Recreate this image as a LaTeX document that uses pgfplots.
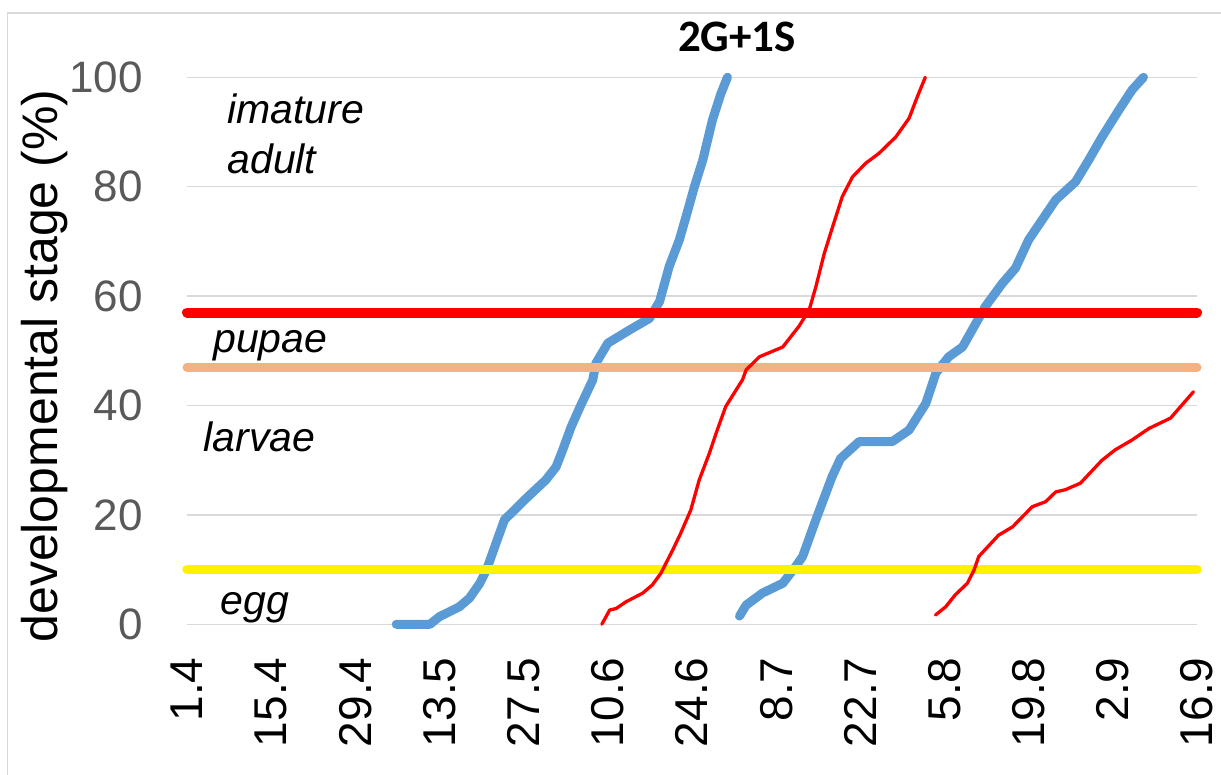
\documentclass[border=0pt]{standalone}
\usepackage{fontspec}
\setmainfont{Liberation Sans}
\newfontfamily\titlefont{Carlito}
\usepackage{pgfplots}
\pgfplotsset{compat=1.18}
\definecolor{stageblue}{HTML}{5B9BD5}
\definecolor{peach}{HTML}{F4B183}
\definecolor{gridgray}{HTML}{D9D9D9}
\definecolor{ticktext}{HTML}{595959}

% cumulative development, days counted from 1 April
\pgfplotstableread{
day val
34.8 0
40.4 0
42 1.4
45.3 3.2
47 4.8
48.7 7.5
49.8 9.9
51.2 14.2
52.8 19.1
54.2 20.6
56.4 23
59.7 26.4
61.4 28.8
62.5 31.9
63.9 36.1
65.4 39.8
67.5 44.7
68 47.7
70 51.4
73.6 53.8
76.9 55.9
78.6 59
80.2 65.4
81.9 70.3
83 74.5
84.4 80
85.8 84.9
87.4 92.2
88.8 97
89.9 100
}\genA
\pgfplotstableread{
day val
69 0
70.3 2.6
71.4 2.9
73 4.1
75.8 5.7
77.4 7.2
78.8 9.3
80.8 13.6
82.1 16.6
83.8 20.9
85.2 26.4
86.9 31.3
88 34.9
89.6 39.8
92.4 44.7
93 46.5
95.2 48.9
99.1 50.7
101.8 54.5
103.5 57.5
104.6 61.7
106 67.8
107.4 72.7
109 78.2
110.7 81.8
112.9 84.3
115.1 86.1
117.9 89.1
120.1 92.5
121.5 96.5
122.8 100
}\genB
\pgfplotstableread{
day val
91.9 1.5
93 3.5
95.7 5.7
99.1 7.5
101.2 10.5
102.4 12.4
104.6 19.1
107.3 27
108.7 30.3
111.8 33.4
117.3 33.4
120.1 35.5
122.9 40.4
124.6 46
126.7 48.9
129 50.7
132.8 58.1
135.6 62.3
137.8 65.1
140 70.3
144.5 77.6
147.8 80.9
150 84.9
152.2 89.1
155 94
157.2 97.7
159.1 100
}\genC
\pgfplotstableread{
day val
124.5 1.7
126.2 3.2
127.8 5.4
129.8 7.5
130.9 9.9
131.7 12.4
135 16.3
137.3 17.8
140.6 21.5
142.8 22.4
144.5 24.2
146.1 24.6
148.6 25.8
152.2 30
154.4 31.9
157.2 33.7
160 35.8
163.6 37.7
167.4 42.5
}\genD

\begin{document}
\begin{tikzpicture}[x=1pt,y=1pt]
\path[use as bounding box] (0,0) rectangle (1221,775);
\draw[gridgray, line width=1.5pt] (7.5,0) -- (7.5,762) -- (1221,762);
\node[font=\titlefont\bfseries\fontsize{45}{45}\selectfont, anchor=base] at (737,723) {2G+1S};
\node[font=\fontsize{50}{50}\selectfont, rotate=90] at (45,409) {developmental stage (\%)};
\begin{axis}[
  at={(187pt,150.7pt)}, anchor=south west,
  width=1010pt, height=547pt, scale only axis,
  xmin=0, xmax=168, ymin=0, ymax=100,
  clip=false,
  axis line style={draw=none},
  tick style={draw=none},
  ymajorgrids,
  major grid style={gridgray, line width=1.5pt},
  ytick={0,20,...,100},
  xtick={0,14,...,168},
  xticklabels={1.4,15.4,29.4,13.5,27.5,10.6,24.6,8.7,22.7,5.8,19.8,2.9,16.9},
  /pgf/number format/assume math mode=true,
  yticklabel style={font=\fontsize{44}{44}\selectfont, text=ticktext, anchor=east, inner sep=0pt},
  yticklabel shift=44pt,
  xticklabel style={font=\fontsize{46}{46}\selectfont, text=black, rotate=90, anchor=east, inner sep=0pt},
  xticklabel shift=33pt,
]
\addplot[stageblue, line width=9pt, line join=round, line cap=round] table[x=day, y=val] {\genA};
\addplot[stageblue, line width=9pt, line join=round, line cap=round] table[x=day, y=val] {\genC};
\addplot[red, line width=10pt, line cap=round] coordinates {(0,57) (168,57)};
\addplot[peach, line width=9pt, line cap=round] coordinates {(0,47) (168,47)};
\addplot[yellow, line width=9.5pt, line cap=round] coordinates {(0,10) (168,10)};
\addplot[red, line width=3.3pt, line join=round, line cap=round] table[x=day, y=val] {\genB};
\addplot[red, line width=3.3pt, line join=round, line cap=round] table[x=day, y=val] {\genD};
\node[font=\itshape\fontsize{41}{41}\selectfont, anchor=base west] at (axis cs:6.15,91.5) {imature};
\node[font=\itshape\fontsize{41}{41}\selectfont, anchor=base west] at (axis cs:6.15,82.5) {adult};
\node[font=\itshape\fontsize{41}{41}\selectfont, anchor=base west] at (axis cs:3.8,49.6) {pupae};
\node[font=\itshape\fontsize{41}{41}\selectfont, anchor=base west] at (axis cs:2.2,31.5) {larvae};
\node[font=\itshape\fontsize{41}{41}\selectfont, anchor=base west] at (axis cs:5,1.7) {egg};
\end{axis}
\end{tikzpicture}
\end{document}
